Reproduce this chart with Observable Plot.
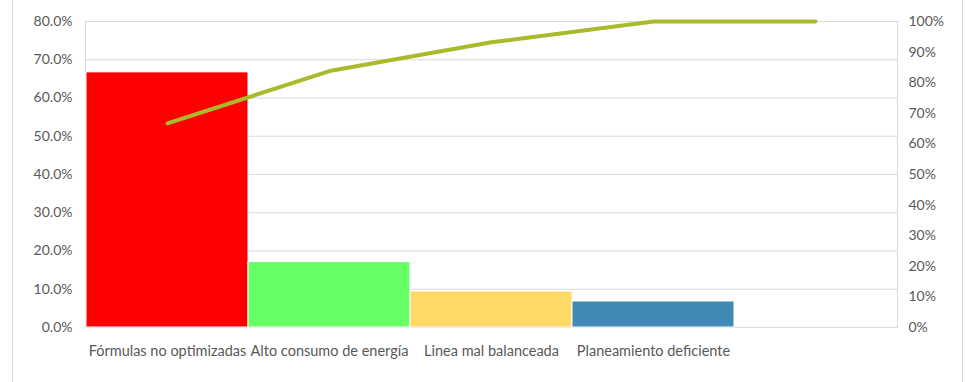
<!DOCTYPE html>
<html>
<head>
<meta charset="utf-8">
<script src="https://cdn.jsdelivr.net/npm/d3@7"></script>
<script src="https://cdn.jsdelivr.net/npm/@observablehq/plot@0.6"></script>
<style>
  html, body { margin: 0; padding: 0; background: #fff; }
  #wrap { position: relative; width: 966px; height: 382px; }
  #edge { position: absolute; left: 12px; top: 0; width: 949px; height: 382px;
          border-left: 1px solid #d9d9d9; border-right: 1px solid #d9d9d9; pointer-events: none; }
</style>
</head>
<body>
<div id="wrap"><div id="edge"></div></div>
<script>
// Causes (the last slot is blank, where the cumulative line closes at 100%)
const categories = ["Fórmulas no optimizadas", "Alto consumo de energía", "Linea mal balanceada", "Planeamiento deficiente", ""];
const shares = [0.667, 0.171, 0.094, 0.068];
const cumulative = [0.667, 0.838, 0.932, 1.0, 1.0];
const barColors = ["#ff0000", "#66ff66", "#ffd966", "#418ab4"];
const leftTicks = [0, 0.1, 0.2, 0.3, 0.4, 0.5, 0.6, 0.7, 0.8];
const rightTicks = [0, 0.1, 0.2, 0.3, 0.4, 0.5, 0.6, 0.7, 0.8, 0.9, 1.0];

const bars = shares.map((v, i) => ({cat: categories[i], value: v, color: barColors[i]}));
const line = cumulative.map((v, i) => ({cat: categories[i], cum: v}));

// The cumulative axis (0–100%) is mapped onto the share axis (0–80%)
const toLeft = d => d * 0.8;

const chart = Plot.plot({
  width: 966,
  height: 382,
  marginLeft: 85,
  marginRight: 69,
  marginTop: 21,
  marginBottom: 55,
  style: {fontFamily: "Lato, sans-serif", fontSize: "14px", color: "#595959", background: "transparent"},
  x: {domain: categories, padding: 0, label: null},
  y: {domain: [0, 0.8], label: null},
  marks: [
    Plot.gridY(leftTicks, {stroke: "#d9d9d9", strokeOpacity: 1}),
    Plot.frame({stroke: "#d9d9d9"}),
    Plot.barY(bars, {x: "cat", y: "value", fill: "color", stroke: "#fff", strokeWidth: 1}),
    Plot.line(line, {x: "cat", y: d => toLeft(d.cum), stroke: "#a9bb2a", strokeWidth: 4}),
    Plot.axisY(leftTicks, {anchor: "left", tickSize: 0, tickPadding: 13, tickFormat: d3.format(".1%"), fill: "#595959", label: null}),
    Plot.axisY(rightTicks, {anchor: "right", y: toLeft, tickSize: 0, tickPadding: 11, tickFormat: d3.format(".0%"), fill: "#595959", label: null}),
    Plot.axisX({tickSize: 0, tickPadding: 18, fill: "#595959", fontSize: 14.5, label: null})
  ]
});
document.getElementById("wrap").prepend(chart);
</script>
</body>
</html>
